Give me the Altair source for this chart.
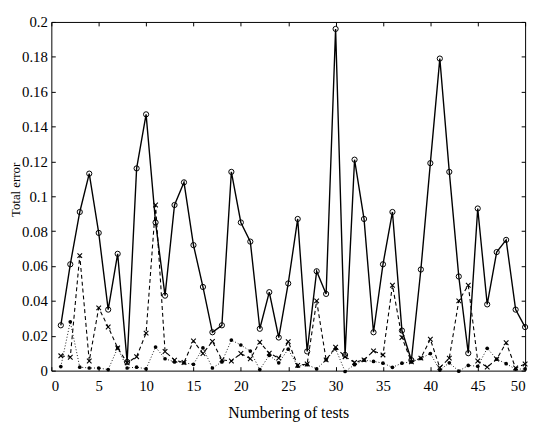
import altair as alt
import pandas as pd

# ---------------- data ----------------
tests = list(range(1, 51))

solid_err = [0.026, 0.061, 0.091, 0.113, 0.079, 0.035, 0.067, 0.005, 0.116, 0.147,
             0.085, 0.043, 0.095, 0.108, 0.072, 0.048, 0.022, 0.026, 0.114, 0.085,
             0.074, 0.024, 0.045, 0.019, 0.050, 0.087, 0.011, 0.057, 0.044, 0.196,
             0.009, 0.121, 0.087, 0.022, 0.061, 0.091, 0.023, 0.006, 0.058, 0.119,
             0.179, 0.114, 0.054, 0.010, 0.093, 0.038, 0.068, 0.075, 0.035, 0.025]

dashed_err = [0.0085, 0.0077, 0.066, 0.0055, 0.036, 0.025, 0.013, 0.0045, 0.008, 0.0215,
              0.095, 0.011, 0.006, 0.0047, 0.017, 0.0098, 0.0168, 0.0062, 0.0055, 0.0098,
              0.0068, 0.0163, 0.010, 0.0072, 0.0166, 0.003, 0.0038, 0.040, 0.0062, 0.0135,
              0.008, 0.0047, 0.0062, 0.0113, 0.009, 0.049, 0.019, 0.005, 0.0072, 0.018,
              0.0017, 0.0072, 0.040, 0.049, 0.0055, 0.002, 0.0066, 0.016, 0.0015, 0.0038]

dotted_err = [0.0023, 0.028, 0.002, 0.0015, 0.0015, 0.0006, 0.013, 0.0015, 0.002, 0.001,
              0.0135, 0.0068, 0.005, 0.0045, 0.0036, 0.013, 0.0015, 0.005, 0.0175, 0.0147,
              0.0112, 0.0006, 0.0088, 0.0045, 0.0123, 0.0025, 0.0034, 0.001, 0.0062, 0.0125,
              -0.0005, 0.0034, 0.006, 0.0053, 0.0043, 0.0019, 0.0043, 0.005, 0.007, 0.0098,
              0.0003, 0.0045, -0.0003, 0.003, 0.0025, 0.0128, 0.0066, 0.004, 0.0008, 0.001]

x_ticks = [0, 5, 10, 15, 20, 25, 30, 35, 40, 45, 50]
y_ticks = [0, 0.02, 0.04, 0.06, 0.08, 0.1, 0.12, 0.14, 0.16, 0.18, 0.2]

x_title = "Numbering of tests"
y_title = "Total error"

# ---------------- chart ----------------
W, H = 481, 354
FONT = "Liberation Serif"

df_s = pd.DataFrame({"test": tests, "err": solid_err})
df_d = pd.DataFrame({"test": tests, "err": dashed_err})
df_o = pd.DataFrame({"test": tests, "err": dotted_err})

x_scale = alt.Scale(domain=[0, 50], nice=False, zero=False)
y_scale = alt.Scale(domain=[0, 0.2], nice=False)

common = dict(grid=False, domain=False, tickColor="black", tickSize=4,
              tickWidth=1, offset=-4)

x_bottom = alt.Axis(orient="bottom", values=x_ticks, format="~g",
                    labelFont=FONT, labelFontSize=15, labelColor="black",
                    labelPadding=8, title=x_title, titleFont=FONT,
                    titleFontSize=16, titleFontWeight="normal",
                    titleColor="black", titlePadding=12, **common)
y_left = alt.Axis(orient="left", values=y_ticks, format="~g",
                  labelFont=FONT, labelFontSize=15, labelColor="black",
                  labelPadding=4, title=y_title, titleFont=FONT,
                  titleFontSize=13, titleFontWeight="normal", titleColor="black",
                  titleX=-36, titleY=170, titleAngle=270, titleAlign="center",
                  titleBaseline="alphabetic", **common)
x_top = alt.Axis(orient="top", values=x_ticks, labels=False, title="", **common)
y_right = alt.Axis(orient="right", values=y_ticks, labels=False, title="", **common)

X_MARK = "M-1,-1L1,1M-1,1L1,-1"

solid_line = alt.Chart(df_s).mark_line(color="black", strokeWidth=1.4).encode(
    x=alt.X("test:Q", scale=x_scale, axis=x_bottom),
    y=alt.Y("err:Q", scale=y_scale, axis=y_left),
)
solid_pts = alt.Chart(df_s).mark_point(shape="circle", filled=False, color="black",
                                       size=28, strokeWidth=1, opacity=1).encode(
    x=alt.X("test:Q", scale=x_scale, axis=x_top),
    y=alt.Y("err:Q", scale=y_scale, axis=y_right),
)
dashed_line = alt.Chart(df_d).mark_line(color="black", strokeWidth=1.1,
                                        strokeDash=[4, 3]).encode(
    x=alt.X("test:Q", scale=x_scale, axis=None),
    y=alt.Y("err:Q", scale=y_scale, axis=None),
)
dashed_pts = alt.Chart(df_d).mark_point(shape=X_MARK, filled=False, color="black",
                                        size=22, strokeWidth=1.1, opacity=1).encode(
    x=alt.X("test:Q", scale=x_scale, axis=None),
    y=alt.Y("err:Q", scale=y_scale, axis=None),
)
dotted_line = alt.Chart(df_o).mark_line(color="black", strokeWidth=0.9,
                                        strokeDash=[1, 2]).encode(
    x=alt.X("test:Q", scale=x_scale, axis=None),
    y=alt.Y("err:Q", scale=y_scale, axis=None),
)
dotted_pts = alt.Chart(df_o).mark_point(shape="circle", filled=True, color="black",
                                        size=14, opacity=1).encode(
    x=alt.X("test:Q", scale=x_scale, axis=None),
    y=alt.Y("err:Q", scale=y_scale, axis=None),
)

chart = alt.layer(
    solid_line, solid_pts, dashed_line, dashed_pts, dotted_line, dotted_pts
).resolve_axis(x="independent", y="independent").properties(
    width=W, height=H,
    autosize=alt.AutoSizeParams(type="none"),
    padding={"left": 44, "top": 11, "right": 7, "bottom": 50},
    background="white",
).configure_view(stroke="black", strokeWidth=1)

chart.save("out.html", embed_options={"renderer": "svg", "actions": False})
